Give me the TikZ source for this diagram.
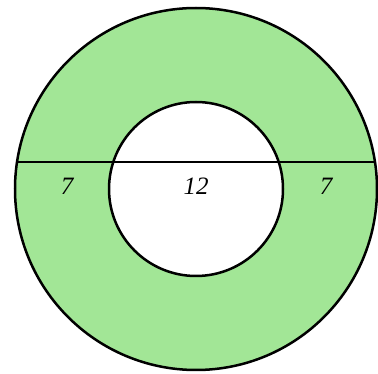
\documentclass[tikz,border=0pt]{standalone}
\usepackage{fontspec}
\setmainfont{Liberation Serif}
\definecolor{ringgreen}{RGB}{162,230,150}
\tikzset{ring/.style={draw=black,line width=2.5pt},
  lbl/.style={font=\fontsize{25}{30}\selectfont\itshape}}
\begin{document}
\begin{tikzpicture}[x=1pt,y=-1pt]
\useasboundingbox (0,0) rectangle (378,374);
\coordinate (c) at (196,189);
\draw[ring,fill=ringgreen] (c) circle (181);
\draw[ring,fill=white] (c) circle (87);
\coordinate (l) at (17,162);
\coordinate (r) at (375,162);
\draw[ring] (l) -- (r);
\node[lbl] (a) at (67,186) {7};
\node[lbl] (b) at (196,186) {12};
\node[lbl] (d) at (326,186) {7};
\end{tikzpicture}
\end{document}
